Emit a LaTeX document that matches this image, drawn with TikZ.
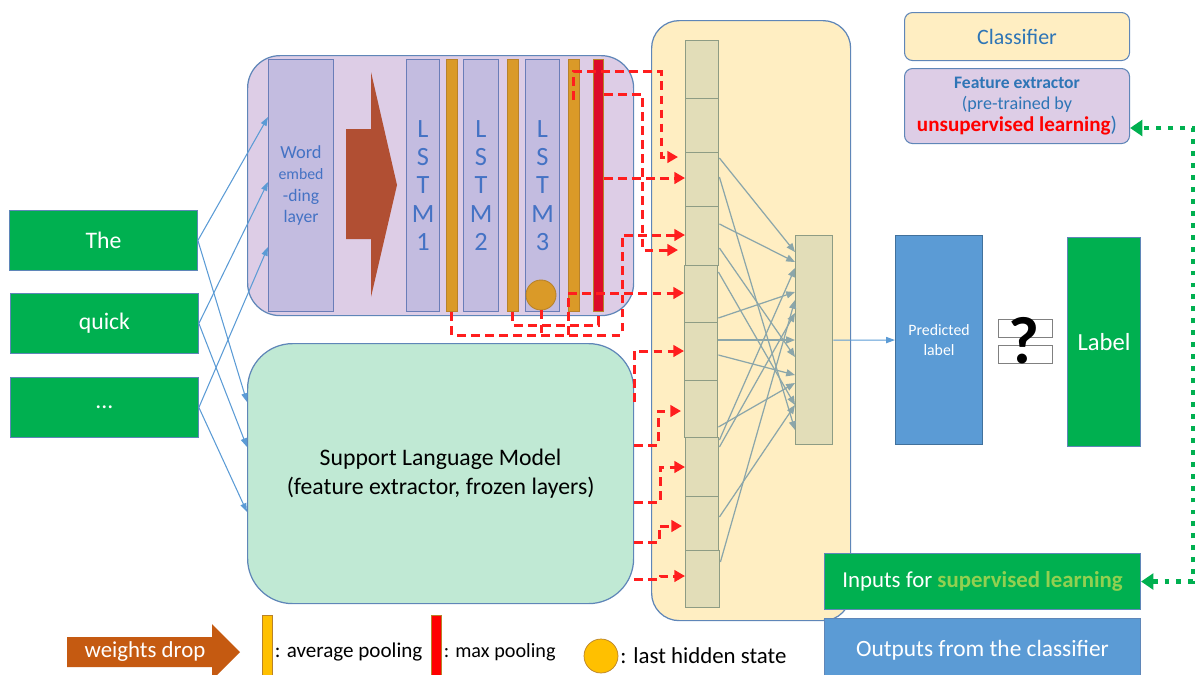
\documentclass[tikz,border=0pt]{standalone}
\usepackage{fontspec}
\setmainfont{Carlito}
\usetikzlibrary{arrows.meta}
\definecolor{cGreen}{HTML}{00B050}
\definecolor{cBlue}{HTML}{5B9BD5}
\definecolor{cBlueEdge}{HTML}{41719C}
\definecolor{cPurple}{HTML}{DDCDE6}
\definecolor{cLav}{HTML}{C3BCE0}
\definecolor{cLavEdge}{HTML}{6A7DB8}
\definecolor{cEdge}{HTML}{5F86B8}
\definecolor{cTextBlue}{HTML}{4472C4}
\definecolor{cOrange}{HTML}{DA9A28}
\definecolor{cOrangeEdge}{HTML}{B8822A}
\definecolor{cRedBar}{HTML}{DC0C28}
\definecolor{cBrown}{HTML}{B14F33}
\definecolor{cYellow}{HTML}{FFEEC2}
\definecolor{cCell}{HTML}{E2DDB8}
\definecolor{cCellEdge}{HTML}{8E9C84}
\definecolor{cGray}{HTML}{8BA6AA}
\definecolor{cMint}{HTML}{C0E9D4}
\definecolor{cRedDash}{HTML}{FF1E1E}
\definecolor{cLegYellow}{HTML}{FFC000}
\definecolor{cLegBrown}{HTML}{C55A11}
\definecolor{cLime}{HTML}{92D050}
\definecolor{cLegText}{HTML}{2E75B6}
\newcommand\myrect[7][]{\node[rectangle, inner sep=0pt, anchor=north west,
  minimum width={(#5-#3)*0.02cm}, minimum height={(#6-#4)*0.02cm}, #1] (#2) at (#3,#4) {#7};}
\tikzset{
  wordbox/.style={fill=cGreen, draw=cEdge, line width=0.5pt, text=white, font=\fontsize{13.5}{15}\selectfont},
  layerbox/.style={fill=cLav, draw=cLavEdge, line width=0.6pt, text=cTextBlue, align=center},
  lstmbox/.style={layerbox, font=\fontsize{15}{16}\selectfont},
  obar/.style={fill=cOrange, draw=cOrangeEdge, line width=0.5pt},
  cell/.style={fill=cCell, draw=cCellEdge, line width=0.8pt},
  rline/.style={draw=cRedDash, line width=1.7pt, dash pattern=on 5pt off 3pt},
  rdash/.style={rline, -{Triangle[length=6pt,width=6.5pt]}},
  garrow/.style={draw=cGray, line width=0.7pt, -{Triangle[length=5pt,width=4pt]}},
  barrow/.style={draw=cBlue, line width=0.6pt, -{Triangle[length=5pt,width=3.5pt]}},
  gdot/.style={draw=cGreen, line width=2.6pt, dash pattern=on 2.8pt off 4pt,
     {Triangle[length=7pt,width=9pt]}-{Triangle[length=7pt,width=9pt]}},
}
\begin{document}
\begin{tikzpicture}[x=0.02cm,y=-0.02cm]
\useasboundingbox (0,0) rectangle (1200,674);
% big containers
\myrect[fill=cPurple, draw=cEdge, line width=0.7pt, rounded corners=0.65cm]{fe}{247}{55}{633}{315}{}
\myrect[fill=cMint, draw=cEdge, line width=0.7pt, rounded corners=0.9cm, align=center,
  font=\fontsize{13.5}{17}\selectfont]{slm}{247}{343}{633}{603}{Support Language Model\\(feature extractor, frozen layers)}
\myrect[fill=cYellow, draw=cEdge, line width=0.7pt, rounded corners=0.55cm]{cls}{651}{20}{850}{620}{}
% words
\myrect[wordbox]{wThe}{9}{210}{197}{270}{The}
\myrect[wordbox]{wQuick}{10}{293}{198}{353}{quick}
\myrect[wordbox]{wDots}{10}{377}{198}{437}{...}
% feature extractor contents
\myrect[layerbox]{emb}{268}{59}{333}{311}{\fontsize{10.5}{12}\selectfont Word\\\fontsize{9}{12}\selectfont embed\\\fontsize{10}{12}\selectfont -ding\\layer}
\fill[cBrown] (346,129) -- (371,129) -- (371,72) -- (397,185) -- (371,297) -- (371,239) -- (346,239) -- cycle;
\myrect[lstmbox]{l1}{406}{59}{439}{311}{L\\S\\T\\M\\1}
\myrect[obar]{ob1}{446}{59}{457}{311}{}
\myrect[lstmbox]{l2}{463}{59}{498}{311}{L\\S\\T\\M\\2}
\myrect[obar]{ob2}{507}{59}{518}{311}{}
\myrect[lstmbox]{l3}{525}{59}{559}{311}{L\\S\\T\\M\\3}
\myrect[obar]{ob3}{568}{59}{579}{311}{}
\myrect[fill=cRedBar, draw=cOrangeEdge, line width=0.5pt]{rb}{593}{59}{603}{311}{}
\node[circle, fill=cOrange, draw=cOrangeEdge, line width=0.5pt, minimum size=0.6cm, inner sep=0pt] (lhs) at (541,295) {};
% classifier cells
\myrect[cell]{c1}{685}{40}{718}{98}{}
\myrect[cell]{c2}{685}{98}{718}{152}{}
\myrect[cell]{c3}{685}{152}{718}{206}{}
\myrect[cell]{c4}{685}{206}{718}{265}{}
\myrect[cell]{c5}{684}{265}{717}{322}{}
\myrect[cell]{c6}{684}{322}{717}{380}{}
\myrect[cell]{c7}{684}{380}{717}{437}{}
\myrect[cell]{c8}{685}{437}{718}{496}{}
\myrect[cell]{c9}{685}{496}{718}{550}{}
\myrect[cell]{c10}{685}{550}{719}{607}{}
\myrect[cell]{hid}{795}{235}{832}{444}{}
% gray connections
\draw[garrow] (c3.east |- 0,158) -- (hid.west |- 0,252);
\draw[garrow] (c3.east |- 0,177) -- (hid.west |- 0,430);
\draw[garrow] (c4.east |- 0,224) -- (hid.west |- 0,262);
\draw[garrow] (c4.east |- 0,248) -- (hid.west |- 0,357);
\draw[garrow] (c5.east |- 0,272) -- (hid.west |- 0,405);
\draw[garrow] (c5.east |- 0,318) -- (hid.west |- 0,292);
\draw[garrow] (c6.east |- 0,340) -- (hid.west |- 0,340);
\draw[garrow] (c6.east |- 0,355) -- (hid.west |- 0,375);
\draw[garrow] (c7.east |- 0,427) -- (hid.west |- 0,383);
\draw[garrow] (c8.east |- 0,440) -- (hid.west |- 0,268);
\draw[garrow] (c8.east |- 0,447) -- (hid.west |- 0,313);
\draw[garrow] (c9.east |- 0,517) -- (hid.west |- 0,405);
\draw[garrow] (c10.east |- 0,562) -- (hid.west |- 0,300);
% word arrows
\draw[barrow] (wThe.east) -- (emb.west |- 0,117);
\draw[barrow] (wQuick.east) -- (emb.west |- 0,182);
\draw[barrow] (wDots.east) -- (emb.west |- 0,247);
\draw[barrow] (wThe.east) -- (slm.west |- 0,402);
\draw[barrow] (wQuick.east) -- (slm.west |- 0,447);
\draw[barrow] (wDots.east) -- (slm.west |- 0,512);
% red dashed connections (upper)
\draw[rdash, shorten >=0.14cm] (ob3.center |- 0,100) -- (ob3.center |- 0,71) -| (661,157) -- (c3.west |- 0,157);
\draw[rdash, shorten >=0.14cm] (rb.east |- 0,94) -| (642,250) -- (c4.west |- 0,250);
\draw[rdash] (rb.east |- 0,178) -- (c3.west |- 0,178);
\draw[rdash] (ob1.south) -- (ob1.south |- 0,335) -| (622,235) -- (c4.west |- 0,235);
\draw[rline] (lhs.south) -- (lhs.south |- 0,335);
\draw[rline] (ob2.south) -- (ob2.south |- 0,325) -| (rb.south);
\draw[rdash] (ob3.west |- 0,335) -- (ob3.west |- 0,293) -- (c5.west |- 0,293);
% red dashed connections (lower)
\draw[rdash] (slm.east |- 0,402) -- (slm.east |- 0,351) -- (c6.west |- 0,351);
\draw[rdash, shorten >=0.06cm] (slm.east |- 0,445) -- (658,445) |- (c7.west |- 0,411);
\draw[rdash] (slm.east |- 0,502) -- (660,502) |- (c8.west |- 0,467);
\draw[rdash, shorten >=0.06cm] (slm.east |- 0,542) -- (659,542) |- (c9.west |- 0,526);
\draw[rdash] (slm.east |- 0,579) -- (660,579) |- (c10.west |- 0,576);
% outputs
\myrect[fill=cBlue, draw=cBlueEdge, line width=0.6pt, text=white, align=center,
  font=\fontsize{9}{11.5}\selectfont]{pred}{895}{235}{982}{444}{Predicted\\label}
\draw[barrow] (hid.east) -- (pred.west);
\myrect[fill=white, draw=gray, line width=0.8pt]{q1}{998}{319}{1052}{337}{}
\myrect[fill=white, draw=gray, line width=0.8pt]{q2}{998}{345}{1052}{363}{}
\node[font=\fontsize{38}{38}\selectfont\bfseries, inner sep=0pt] (qm) at (1024,341) {?};
\myrect[fill=cGreen, draw=cEdge, line width=0.6pt, text=white, font=\fontsize{14}{15}\selectfont]{lab}{1067}{237}{1140}{446}{Label}
% legend right
\myrect[fill=cYellow, draw=cEdge, line width=0.6pt, rounded corners=0.16cm, text=cLegText,
  font=\fontsize{12.5}{14}\selectfont]{lgCls}{904}{12}{1129}{60}{Classifier}
\myrect[fill=cPurple, draw=cEdge, line width=0.6pt, rounded corners=0.16cm, align=center]{lgFE}{904}{68}{1129}{143}{%
  {\fontsize{10}{13}\selectfont\bfseries\color{cLegText}Feature extractor}\\
  {\fontsize{10.3}{13.5}\selectfont\color{cLegText}(pre-trained by}\\
  {\fontsize{12}{14}\selectfont{\bfseries\color{red}unsupervised learning}{\color{cLegText})}}}
\myrect[fill=cGreen, draw=cEdge, line width=0.6pt, text=white, font=\fontsize{13}{15}\selectfont]{inp}{824}{553}{1140}{609}{Inputs for {\bfseries\color{cLime}supervised learning}}
\myrect[fill=cBlue, draw=cEdge, line width=0.6pt, text=white, font=\fontsize{13.3}{15}\selectfont]{outp}{824}{618}{1140}{690}{\raisebox{0.25cm}{Outputs from the classifier}}
\draw[gdot] (inp.east) -| (1193,128) -- (lgFE.east |- 0,128);
% legend bottom
\fill[cLegBrown] (67,637) -- (212,637) -- (212,624) -- (240,652) -- (212,680) -- (212,667) -- (67,667) -- cycle;
\node[text=white, font=\fontsize{13}{15}\selectfont] (lgDrop) at (145,652) {weights drop};
\myrect[fill=cLegYellow, draw=cOrangeEdge, line width=0.4pt]{lgAvg}{262}{615}{272}{680}{}
\node[anchor=west, inner sep=1pt, font=\fontsize{12}{14}\selectfont] (lgAvgT) at (lgAvg.east |- 0,652) {: average pooling};
\myrect[fill=red, draw=cOrangeEdge, line width=0.4pt]{lgMax}{431}{615}{441}{680}{}
\node[anchor=west, inner sep=1pt, font=\fontsize{11.5}{13}\selectfont] (lgMaxT) at (lgMax.east |- 0,652) {: max pooling};
\node[circle, fill=cLegYellow, draw=cOrangeEdge, line width=0.4pt, minimum size=0.68cm, inner sep=0pt] (lgLhs) at (601,656) {};
\node[anchor=west, inner sep=1pt, font=\fontsize{13}{15}\selectfont] (lgLhsT) at (lgLhs.east) {: last hidden state};
\end{tikzpicture}
\end{document}
